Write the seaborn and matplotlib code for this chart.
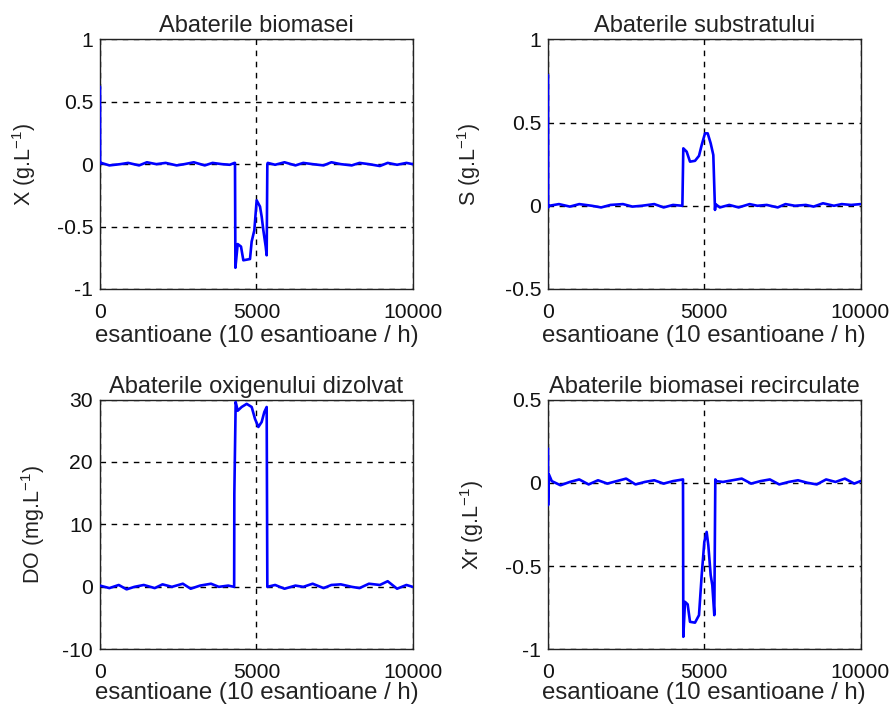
import numpy as np
import pandas as pd
import matplotlib
matplotlib.use("Agg")
import matplotlib.pyplot as plt
import seaborn as sns

sns.set_theme(style="white")
plt.rcParams['font.family'] = ['Liberation Sans', 'DejaVu Sans']
plt.rcParams['mathtext.fontset'] = 'custom'
plt.rcParams['mathtext.rm'] = 'Liberation Sans'
plt.rcParams['mathtext.it'] = 'Liberation Sans'
plt.rcParams['mathtext.bf'] = 'Liberation Sans'

# ---------------- data ----------------
x_X = [0, 3, 40, 300, 650, 900, 1250, 1500, 1800, 2100, 2450, 2700, 3000, 3350, 3600, 3900, 4150, 4300,
       4317, 4330, 4403, 4509, 4584, 4797, 4850, 4935, 5010, 5117, 5170, 5224, 5299, 5330, 5351, 5365,
       5600, 5900, 6250, 6500, 6800, 7150, 7400, 7700, 8050, 8300, 8600, 8950, 9200, 9500, 9800, 10000]
y_X = [0.62, 0.0, 0.01, -0.01, 0.0, 0.01, -0.01, 0.015, 0.0, 0.01, -0.01, 0.0, 0.015, -0.01, 0.01, 0.0, -0.005, 0.01,
       0.01, -0.83, -0.64, -0.66, -0.77, -0.76, -0.62, -0.53, -0.29, -0.34, -0.42, -0.53, -0.66, -0.73, 0.0, 0.01,
       -0.005, 0.015, -0.01, 0.01, 0.0, -0.01, 0.015, 0.0, -0.01, 0.01, 0.0, -0.015, 0.01, -0.005, 0.01, 0.0]

x_S = [0, 3, 40, 350, 700, 1000, 1400, 1700, 2000, 2400, 2700, 3000, 3400, 3700, 4000, 4300,
       4330, 4437, 4544, 4704, 4832, 4918, 5024, 5110, 5206, 5290, 5344, 5360, 5500,
       5800, 6100, 6450, 6700, 7000, 7350, 7600, 7900, 8250, 8500, 8800, 9150, 9400, 9700, 10000]
y_S = [0.785, -0.01, 0.0, 0.01, -0.005, 0.01, 0.0, -0.01, 0.005, 0.01, -0.005, 0.0, 0.01, -0.01, 0.005, 0.0,
       0.345, 0.325, 0.265, 0.27, 0.30, 0.365, 0.435, 0.435, 0.375, 0.305, -0.025, 0.01, -0.01,
       0.005, -0.01, 0.01, 0.0, 0.005, -0.01, 0.01, 0.0, 0.005, -0.005, 0.015, 0.0, 0.01, 0.005, 0.01]

x_DO = [0, 300, 600, 850, 1100, 1400, 1750, 2000, 2300, 2650, 2900, 3200, 3550, 3800, 4100, 4290,
        4296, 4339, 4403, 4530, 4691, 4851, 4957, 5064, 5170, 5255, 5330, 5351,
        5600, 5900, 6250, 6500, 6800, 7150, 7400, 7700, 8050, 8300, 8600, 8950, 9200, 9500, 9800, 10000]
y_DO = [0.2, -0.2, 0.3, -0.4, 0.0, 0.3, -0.2, 0.4, 0.0, 0.5, -0.3, 0.2, 0.5, 0.0, 0.2, 0.0,
        14.9, 29.6, 28.2, 28.8, 29.3, 28.8, 26.9, 25.6, 26.4, 28.0, 28.8, 0.0,
        0.3, -0.3, 0.2, 0.0, 0.5, -0.2, 0.3, 0.4, 0.0, -0.2, 0.5, 0.3, 0.9, -0.3, 0.3, 0.0]

x_Xr = [0, 2, 30, 120, 400, 700, 1000, 1300, 1600, 1900, 2200, 2500, 2800, 3100, 3400, 3700, 4000, 4320,
        4330, 4384, 4469, 4544, 4704, 4832, 4918, 5002, 5077, 5130, 5206, 5258, 5322, 5354, 5380,
        5600, 5900, 6200, 6500, 6800, 7100, 7400, 7700, 8000, 8300, 8600, 8900, 9200, 9500, 9800, 10000]
y_Xr = [0.205, -0.135, 0.05, 0.01, -0.015, 0.005, 0.02, -0.01, 0.015, -0.005, 0.01, 0.025, -0.01, 0.005, 0.015, -0.005, 0.01, 0.02,
        -0.925, -0.715, -0.73, -0.835, -0.84, -0.795, -0.555, -0.355, -0.295, -0.375, -0.555, -0.615, -0.795, 0.02, 0.01,
        0.005, 0.015, 0.025, -0.005, 0.01, 0.02, -0.01, 0.005, 0.015, 0.0, -0.01, 0.02, 0.005, 0.025, -0.005, 0.01]

titles = ["Abaterile biomasei", "Abaterile substratului",
          "Abaterile oxigenului dizolvat", "Abaterile biomasei recirculate"]
ylabels = [r"X (g.L$^{-1}$)", r"S (g.L$^{-1}$)", r"DO (mg.L$^{-1}$)", r"Xr (g.L$^{-1}$)"]
xlabel = "esantioane (10 esantioane / h)"
xticks = [0, 5000, 10000]
yticks_list = [[-1, -0.5, 0, 0.5, 1], [-0.5, 0, 0.5, 1], [-10, 0, 10, 20, 30], [-1, -0.5, 0, 0.5]]
ytick_labels = [["-1", "-0.5", "0", "0.5", "1"], ["-0.5", "0", "0.5", "1"],
                ["-10", "0", "10", "20", "30"], ["-1", "-0.5", "0", "0.5"]]

series = [(x_X, y_X), (x_S, y_S), (x_DO, y_DO), (x_Xr, y_Xr)]

# ---------------- figure ----------------
W, H = 893, 706
fig = plt.figure(figsize=(W / 100, H / 100), dpi=100)
fig.patch.set_facecolor("white")

boxes = [(100, 39.3, 412.7, 289), (548, 39.3, 860.5, 289),
         (100, 399.5, 412.7, 649.3), (548, 399.5, 860.5, 649.3)]
ylab_x = [-0.198, -0.208, -0.17, -0.2]
xlab_y = [-0.145, -0.145, -0.132, -0.132]

fs_tick = 15.2
fs_title = 17
fs_xlab = 17.3
fs_ylab = 15.5
for i, (bx, (xs, ys)) in enumerate(zip(boxes, series)):
    l, t, r, b = bx
    ax = fig.add_axes([l / W, 1 - b / H, (r - l) / W, (b - t) / H])
    ax.set_facecolor("white")
    df = pd.DataFrame({"x": xs, "y": ys})
    sns.lineplot(data=df, x="x", y="y", ax=ax, color="#0000ff", linewidth=1.9,
                 sort=False, estimator=None, zorder=3)
    ax.set_xlim(0, 10000)
    yt = yticks_list[i]
    ax.set_ylim(yt[0], yt[-1])
    ax.set_xticks(xticks)
    ax.set_xticklabels([str(v) for v in xticks], fontsize=fs_tick, color="#111111")
    ax.set_yticks(yt)
    ax.set_yticklabels(ytick_labels[i], fontsize=fs_tick, color="#111111")
    ax.tick_params(direction="in", length=3, width=0.8, color="#222222", pad=5)
    ax.tick_params(axis="x", pad=10)
    ax.grid(True, color="black", linestyle=(0, (4, 4)), linewidth=1.0)
    for s in ax.spines.values():
        s.set_visible(True)
        s.set_color("#222222")
        s.set_linewidth(1.0)
    ax.set_title(titles[i], fontsize=fs_title, color="#222222", pad=5)
    ax.set_xlabel(xlabel, fontsize=fs_xlab, color="#222222")
    ax.set_ylabel(ylabels[i], fontsize=fs_ylab, color="#222222")
    ax.xaxis.set_label_coords(0.5, xlab_y[i])
    ax.yaxis.set_label_coords(ylab_x[i], 0.5)

fig.savefig("out.png", dpi=100, facecolor="white")
